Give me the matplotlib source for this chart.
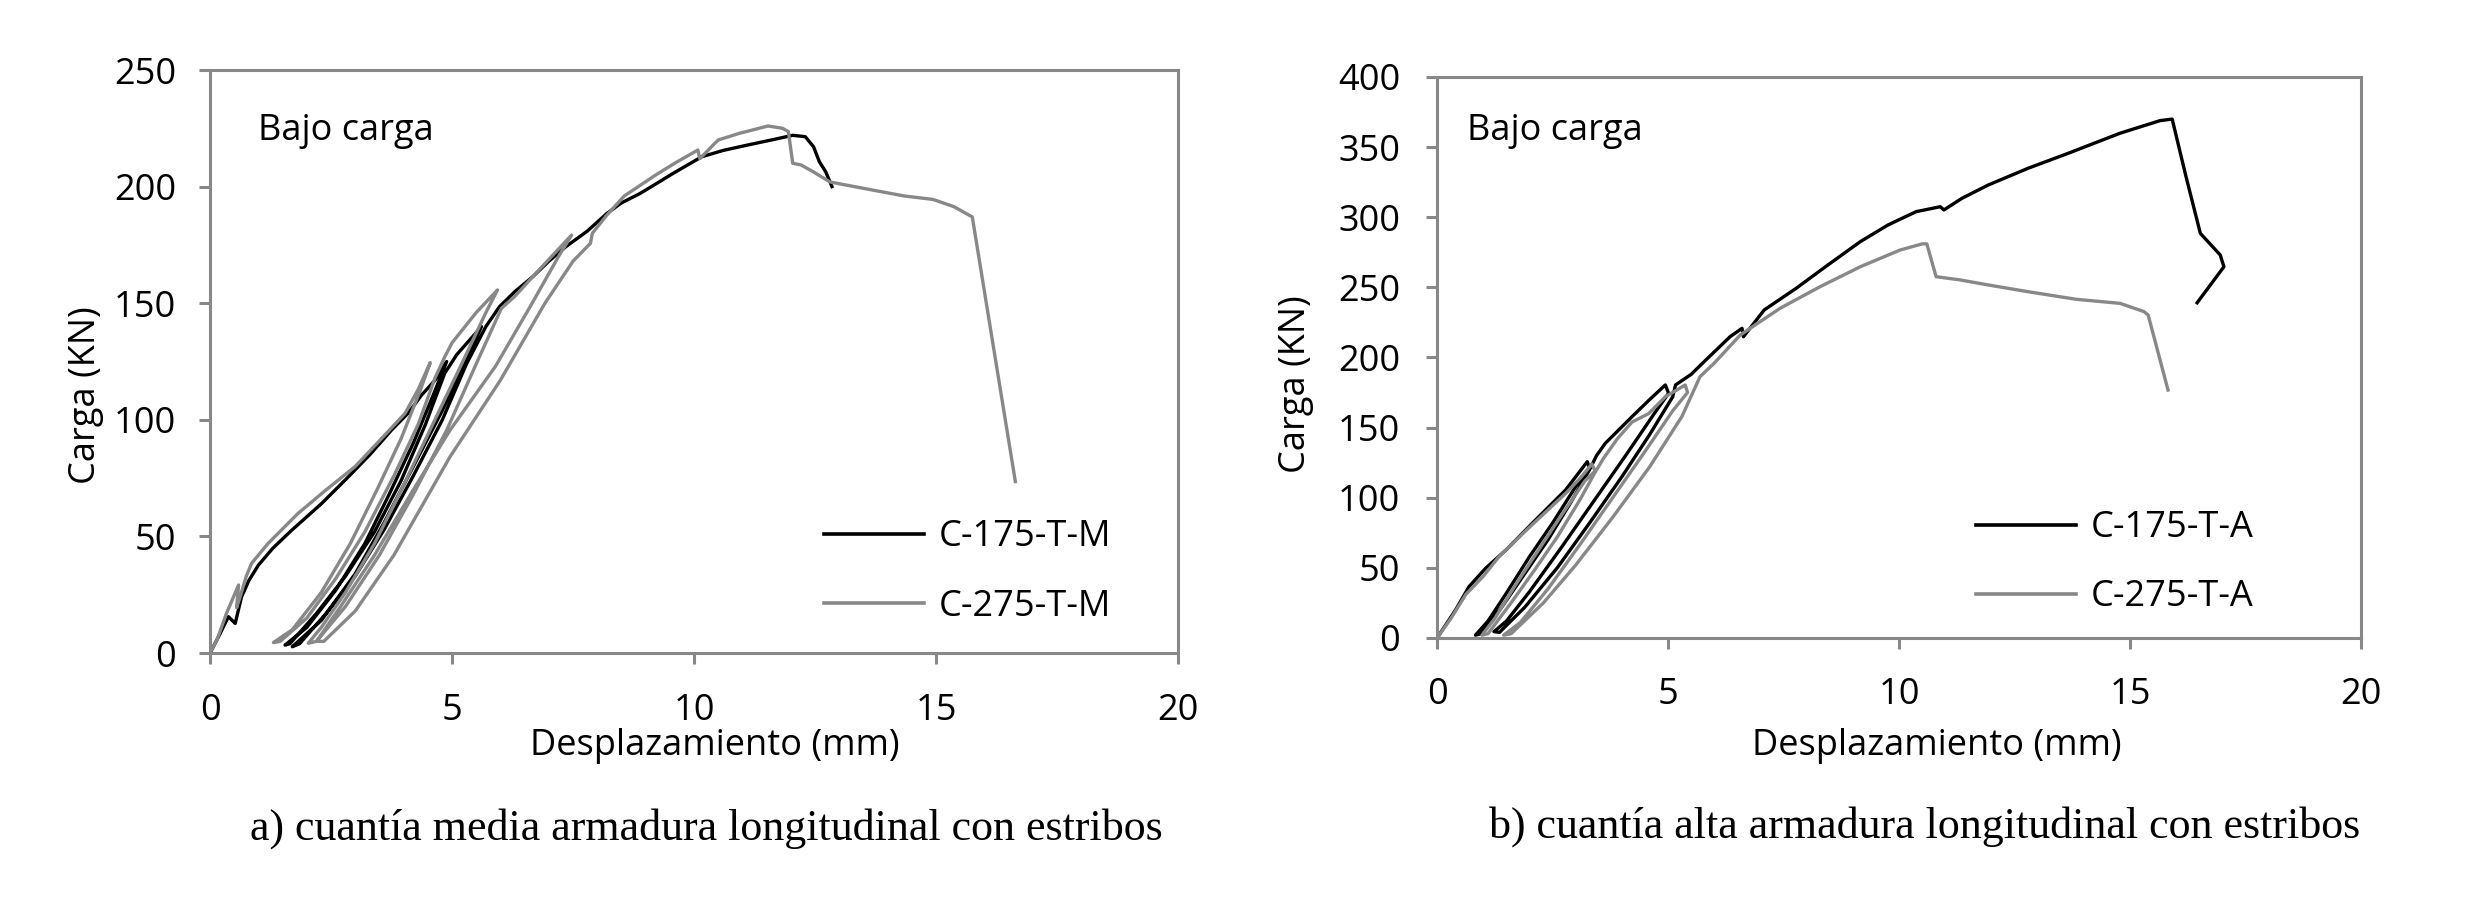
import matplotlib
matplotlib.use('Agg')
import matplotlib.pyplot as plt

plt.rcParams['font.family'] = ['Open Sans', 'DejaVu Sans']

# a) cuantia media - C-175-T-M (black) / C-275-T-M (gray)
m175_x = [0, 0.2, 0.38, 0.52, 0.65, 0.8, 1.0, 1.3, 1.69, 2.3, 2.86, 3.3, 3.75, 4.1, 4.37, 4.65, 4.89,
          4.6, 4.2, 3.7, 3.2, 2.6, 2.0, 1.55,
          1.65, 2.2, 2.8, 3.4, 3.95, 4.45, 4.85, 5.1, 5.61,
          5.3, 4.8, 4.2, 3.6, 3.0, 2.3, 1.7,
          1.85, 2.4, 3.0, 3.6, 4.2, 4.8, 5.3, 5.7, 5.98, 6.3, 6.67, 7.0, 7.35, 7.8, 8.2, 8.5, 8.88,
          9.2, 9.57, 10.16, 10.6, 11.1, 11.6, 12.04, 12.3, 12.47, 12.59, 12.72, 12.85]
m175_y = [0, 8, 15.6, 12.7, 24, 31, 37.7, 45, 52.7, 64, 75.6, 85, 95.6, 103, 110.6, 117, 125,
          110, 90, 68, 47, 27, 11, 3.4,
          4, 17, 33, 52, 74, 98, 120, 128, 140,
          126, 104, 80, 56, 34, 14, 2.7,
          4, 17, 33, 53, 76, 100, 124, 140, 148.5, 155, 161.4, 168, 174.2, 181, 188.5, 193, 197,
          201, 205.7, 212.8, 215.5, 217.8, 220, 222, 221.4, 217.1, 210.7, 206.4, 200]

m275_x = [0, 0.15, 0.34, 0.59, 0.55, 0.62, 0.75, 0.86, 1.2, 1.82, 2.4, 3.0, 3.5, 4.03, 4.3, 4.55,
          4.35, 3.95, 3.45, 2.9, 2.3, 1.7, 1.31,
          1.45, 2.0, 2.6, 3.2, 3.8, 4.3, 4.65, 4.85, 5.0, 5.5, 5.94,
          5.7, 5.2, 4.6, 4.0, 3.4, 2.8, 2.3, 2.03,
          2.2, 2.8, 3.5, 4.2, 4.9, 5.5, 5.85, 6.02, 6.3, 6.67, 7.1, 7.47,
          7.2, 6.6, 5.9, 4.96, 4.2, 3.4, 2.7, 2.2,
          2.35, 3.0, 3.8, 4.96, 6.0, 6.92, 7.5, 7.86, 7.9, 8.2, 8.56, 9.21, 9.6, 10.08, 10.12,
          10.5, 10.93, 11.53, 11.83, 11.95, 12.04, 12.21, 12.46, 12.81, 13.49, 14.34, 14.94,
          15.37, 15.75, 16.64]
m275_y = [0, 6, 17, 29.2, 19.5, 24, 33, 38.5, 47, 59.9, 70, 80, 91, 102.8, 113, 124.5,
          113, 92, 70, 47, 26, 10, 4.5,
          5, 15, 32, 52, 76, 98, 118, 127, 133, 146, 155.7,
          146, 124, 98, 72, 47, 26, 11, 4.2,
          5, 20, 42, 68, 96, 124, 140, 147.8, 153, 161.4, 171, 179.2,
          170, 148, 123, 95.6, 70, 42, 20, 5,
          5, 18, 42, 84.2, 117, 150, 168, 175.7, 180, 187.8, 196, 205, 210, 215.7, 212,
          220, 222.8, 226, 225, 223.6, 210, 209.3, 206.4, 202, 199.3, 196, 194.5,
          191.4, 187, 73.5]

# b) cuantia alta - C-175-T-A (black) / C-275-T-A (gray)
a175_x = [0, 0.2, 0.4, 0.69, 1.05, 1.5, 2.06, 2.78, 3.25, 3.3,
          3.0, 2.5, 2.0, 1.5, 1.1, 0.83,
          0.95, 1.4, 1.9, 2.4, 2.9, 3.3, 3.45, 3.64, 4.22, 4.6, 4.94, 5.01,
          4.7, 4.1, 3.4, 2.7, 2.0, 1.5, 1.23,
          1.35, 1.9, 2.6, 3.3, 4.0, 4.6, 5.1, 5.16, 5.5, 5.81, 6.34, 6.6, 6.63, 7.08, 7.77,
          8.46, 9.16, 9.76, 10.37, 10.89, 10.97, 11.36, 11.93, 12.79, 13.66, 14.78, 15.65,
          15.91, 16.21, 16.52, 16.95, 17.03, 16.45]
a175_y = [0, 10, 20, 36.6, 49.7, 63, 81.8, 105.5, 125.7, 121,
          108, 82, 58, 32, 12, 2,
          3, 22, 46, 70, 97, 120, 130, 138.8, 157.8, 170, 180.4, 174.5,
          160, 131, 98, 65, 33, 12, 4.5,
          4, 22, 50, 82, 115, 145, 172, 180.4, 188, 198, 214.8, 220.8, 214.8, 233.9, 249.3,
          266, 282.6, 294.5, 304, 307.5, 305.2, 313.5, 323, 334.9, 345.6, 359.9, 368.9,
          370, 328.9, 288.5, 273.1, 264.7, 239]

a275_x = [0, 0.3, 0.62, 1.0, 1.34, 2.0, 2.78, 3.1, 3.35, 3.42,
          3.2, 2.7, 2.2, 1.7, 1.25, 0.97,
          1.1, 1.6, 2.1, 2.6, 3.1, 3.4, 3.6, 3.9, 4.22, 4.58, 4.94, 5.37, 5.42,
          5.1, 4.5, 3.8, 3.1, 2.4, 1.8, 1.44,
          1.6, 2.3, 3.0, 3.8, 4.6, 5.3, 5.69, 6.0, 6.56, 7.42, 8.29, 9.16, 10.02, 10.5, 10.6,
          10.8, 11.32, 11.93, 12.79, 13.83, 14.78, 15.3, 15.39, 15.82]
a275_y = [0, 14, 31, 44, 58, 79, 103, 114, 124, 119,
          112, 88, 63, 38, 14, 2,
          3, 25, 48, 72, 99, 117, 128, 142, 154, 160, 172, 180.4, 175,
          162, 133, 100, 67, 35, 11, 2,
          3, 25, 52, 86, 122, 158, 186.3, 196, 216, 235, 250.5, 264.7, 276.6, 281, 281,
          257.6, 255.3, 251.7, 246.9, 241.5, 238.6, 232.7, 230.3, 176.8]

x_ticks = [0, 5, 10, 15, 20]
y_ticks_a = [0, 50, 100, 150, 200, 250]
y_ticks_b = [0, 50, 100, 150, 200, 250, 300, 350, 400]

GRAY = '#888888'
FS = 26


def style_axes(ax, yticks, xpad, ypad):
    for s in ax.spines.values():
        s.set_color(GRAY)
        s.set_linewidth(2.2)
    ax.set_xlim(x_ticks[0], x_ticks[-1])
    ax.set_ylim(0, yticks[-1])
    ax.set_xticks(x_ticks)
    ax.set_yticks(yticks)
    ax.tick_params(axis='both', direction='out', length=8, width=2.2, color=GRAY,
                   labelsize=FS)
    ax.tick_params(axis='x', pad=xpad)
    ax.tick_params(axis='y', pad=ypad)


def panel(ax, x1, y1, x2, y2, lab1, lab2, yticks, xpad, ypad):
    ax.plot(x1, y1, color='black', lw=2.4, label=lab1)
    ax.plot(x2, y2, color=GRAY, lw=2.4, label=lab2)
    style_axes(ax, yticks, xpad, ypad)
    ax.set_xlabel('Desplazamiento (mm)', fontsize=FS)
    ax.set_ylabel('Carga (KN)', fontsize=FS)


def add_legend(ax, x, y):
    leg = ax.legend(loc='center left', bbox_to_anchor=(x, y), frameon=False,
                    fontsize=FS, handlelength=2.77, handletextpad=0.42, labelspacing=0.92,
                    borderpad=0, borderaxespad=0)
    for h in leg.get_lines():
        h.set_linewidth(2.6)


fig = plt.figure(figsize=(24.68, 9.08), dpi=100)

ax1 = fig.add_axes([0.0851, 0.2808, 0.3922, 0.6421])
panel(ax1, m175_x, m175_y, m275_x, m275_y, 'C-175-T-M', 'C-275-T-M', y_ticks_a, 21, 16.5)
ax1.xaxis.set_label_coords(0.522, -0.128)
ax1.yaxis.set_label_coords(-0.1095, 0.4425)
ax1.text(0.0496, 0.880, 'Bajo carga', transform=ax1.transAxes, fontsize=FS, va='baseline')
add_legend(ax1, 0.634, 0.139)

ax2 = fig.add_axes([0.5823, 0.2974, 0.3744, 0.6178])
panel(ax2, a175_x, a175_y, a275_x, a275_y, 'C-175-T-A', 'C-275-T-A', y_ticks_b, 20, 18.5)
ax2.xaxis.set_label_coords(0.541, -0.161)
ax2.yaxis.set_label_coords(-0.133, 0.453)
ax2.text(0.0325, 0.888, 'Bajo carga', transform=ax2.transAxes, fontsize=FS, va='baseline')
add_legend(ax2, 0.583, 0.134)

fig.text(706 / 2468, 1 - 840 / 908, 'a) cuantía media armadura longitudinal con estribos',
         family=['Liberation Serif', 'DejaVu Serif'], fontsize=31.7, ha='center', va='baseline')
fig.text(1925 / 2468, 1 - 838 / 908, 'b) cuantía alta armadura longitudinal con estribos',
         family=['Liberation Serif', 'DejaVu Serif'], fontsize=31.7, ha='center', va='baseline')

fig.savefig('out.png', dpi=100)
